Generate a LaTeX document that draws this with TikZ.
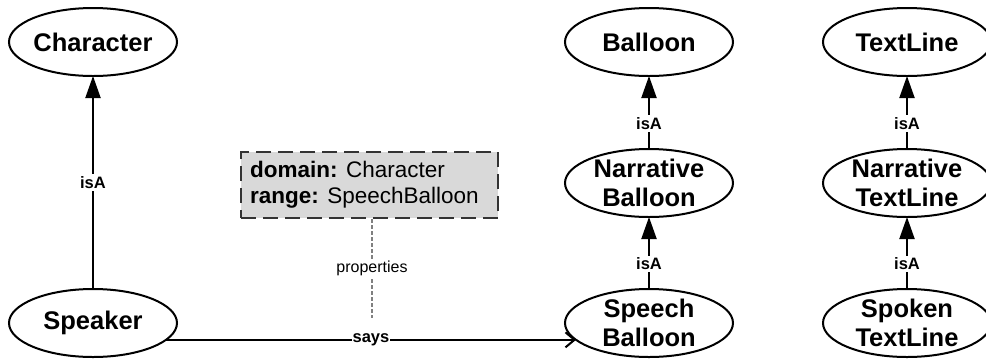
\documentclass[tikz,border=0pt]{standalone}
\usepackage{fontspec}
\setmainfont{Liberation Sans}
\usetikzlibrary{shapes.geometric,arrows.meta}
\definecolor{notefill}{HTML}{D9D9D9}
\definecolor{noteedge}{HTML}{333333}
\definecolor{propgray}{HTML}{808080}
\tikzset{
  cls/.style={ellipse, draw=black, line width=2pt, fill=white, minimum width=168pt, minimum height=68pt, inner sep=0pt, outer sep=0pt},
  clstext/.style={align=center, inner sep=0pt, font=\fontsize{25.5}{29.5}\selectfont\bfseries},
  isa/.style={line width=2pt, -{Triangle[length=22pt,width=15pt]}},
  says/.style={line width=2pt, -{Straight Barb[length=9pt,width=15pt,line width=2pt]}},
  elbl/.style={fill=white, inner sep=2pt, font=\fontsize{16.5}{19}\selectfont\bfseries},
  plbl/.style={fill=white, inner sep=2pt, font=\fontsize{16}{19}\selectfont},
  notebox/.style={rectangle, draw=noteedge, fill=notefill, line width=2pt, dash pattern=on 15pt off 7pt, minimum width=257pt, minimum height=66pt, inner sep=0pt},
  notetext/.style={align=left, inner sep=0pt, font=\fontsize{22.5}{26}\selectfont},
  propline/.style={draw=propgray, line width=1.4pt, dash pattern=on 4pt off 2pt}
}
\begin{document}
\begin{tikzpicture}[x=1pt,y=-1pt]
\useasboundingbox (0,0) rectangle (986,360);
\clip (0,0) rectangle (986,360);
% classes
\node[cls] (character) at (93,42) {};
\node[clstext] (charactert) at (character.center) {Character};
\node[cls] (speaker) at (93,323) {};
\node[clstext] (speakert) at (speaker.center) {Speaker};
\node[cls] (balloon) at (649,42) {};
\node[clstext] (balloont) at (balloon.center) {Balloon};
\node[cls] (narrb) at (649,183) {};
\node[clstext] (narrbt) at (narrb.center) {Narrative\\Balloon};
\node[cls] (speech) at (649,323) {};
\node[clstext] (speecht) at (speech.center) {Speech\\Balloon};
\node[cls] (textline) at (907,42) {};
\node[clstext] (textlinet) at (textline.center) {TextLine};
\node[cls] (narrt) at (907,183) {};
\node[clstext] (narrtt) at (narrt.center) {Narrative\\TextLine};
\node[cls] (spoken) at (907,323) {};
\node[clstext] (spokent) at (spoken.center) {Spoken\\TextLine};
% isA edges
\draw[isa] (speaker) -- node[elbl, pos=0.5] (l1) {isA} (character);
\draw[isa] (narrb) -- node[elbl, pos=0.35] (l2) {isA} (balloon);
\draw[isa] (speech) -- node[elbl, pos=0.35] (l3) {isA} (narrb);
\draw[isa] (narrt) -- node[elbl, pos=0.35] (l4) {isA} (textline);
\draw[isa] (spoken) -- node[elbl, pos=0.35] (l5) {isA} (narrt);
% says
\draw[says] (speaker.-13.9) -- node[elbl, pos=0.5, inner sep=1pt] (lsays) {says} (speech.193.9);
% note
\node[notebox] (note) at (369.5,185) {};
\node[notetext, anchor=west] (notet) at (250,185) {\textbf{domain:} Character\\\textbf{range:} SpeechBalloon};
\coordinate (propend) at (372,318);
\draw[propline] (note.south -| propend) -- node[plbl, pos=0.5] (lprops) {properties} (propend);
\end{tikzpicture}
\end{document}
